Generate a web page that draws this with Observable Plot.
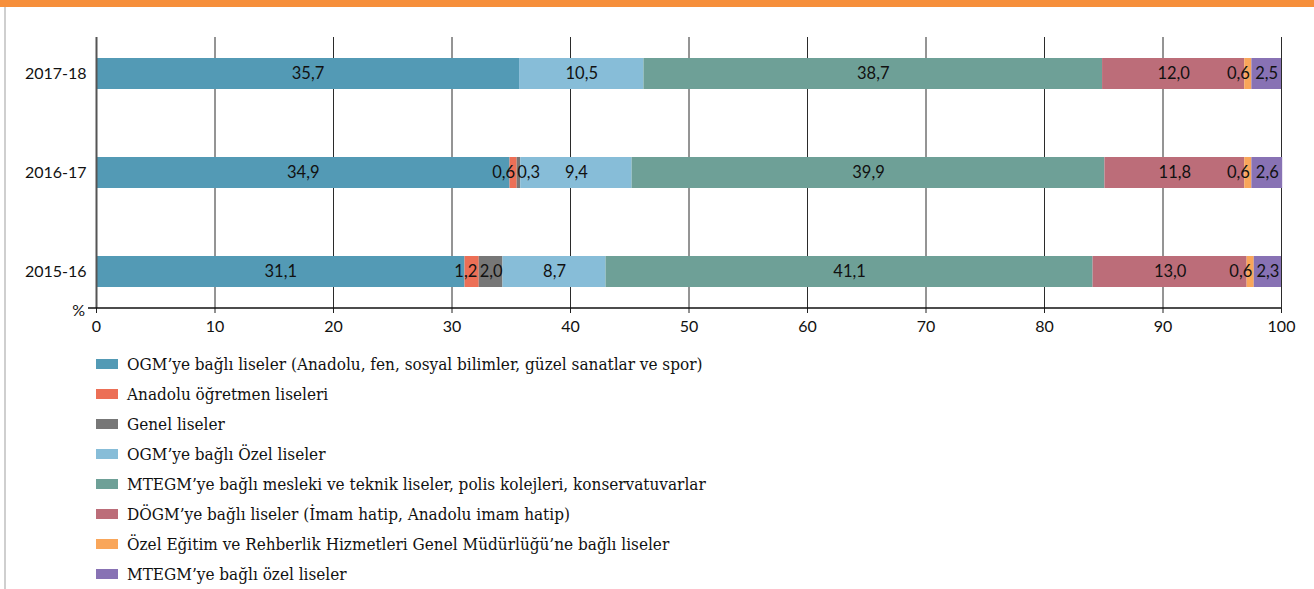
<!DOCTYPE html>
<html>
<head>
<meta charset="utf-8">
<script src="https://cdn.jsdelivr.net/npm/d3@7"></script>
<script src="https://cdn.jsdelivr.net/npm/@observablehq/plot@0.6"></script>
<style>
  html, body { margin: 0; padding: 0; background: #fff; }
  body { width: 1314px; height: 589px; position: relative; overflow: hidden; }
  #topbar { height: 7px; background: #F68F3B; }
  #leftline { position: absolute; left: 4px; top: 7px; bottom: 0; width: 2px; background: #cfcfcf; }
  #legend { margin-top: 4px; font-family: "DejaVu Serif Condensed", "DejaVu Serif", serif; font-stretch: condensed; font-size: 17px; color: #111; }
  .row { height: 30px; display: flex; align-items: center; padding-left: 96px; }
  .sw { width: 22px; height: 10px; margin-right: 9px; }
</style>
</head>
<body>
<div id="topbar"></div>
<div id="leftline"></div>
<div id="chart"></div>
<div id="legend"></div>
<script>
const years = ["2017-18", "2016-17", "2015-16"];
const categories = [
  "OGM’ye bağlı liseler (Anadolu, fen, sosyal bilimler, güzel sanatlar ve spor)",
  "Anadolu öğretmen liseleri",
  "Genel liseler",
  "OGM’ye bağlı Özel liseler",
  "MTEGM’ye bağlı mesleki ve teknik liseler, polis kolejleri, konservatuvarlar",
  "DÖGM’ye bağlı liseler (İmam hatip, Anadolu imam hatip)",
  "Özel Eğitim ve Rehberlik Hizmetleri Genel Müdürlüğü’ne bağlı liseler",
  "MTEGM’ye bağlı özel liseler"
];
const colors = ["#539AB5", "#EC6F56", "#777777", "#87BDD8", "#6EA097", "#BC6D79", "#F9A65A", "#8872B4"];
const values2017 = [35.7, 0, 0, 10.5, 38.7, 12.0, 0.6, 2.5];
const values2016 = [34.9, 0.6, 0.3, 9.4, 39.9, 11.8, 0.6, 2.6];
const values2015 = [31.1, 1.2, 2.0, 8.7, 41.1, 13.0, 0.6, 2.3];
const xTicks = [0, 10, 20, 30, 40, 50, 60, 70, 80, 90, 100];

const series = {"2017-18": values2017, "2016-17": values2016, "2015-16": values2015};
const data = [];
for (const y of years) {
  let acc = 0;
  series[y].forEach((v, i) => {
    data.push({year: y, cat: categories[i], idx: i, value: v, start: acc, end: acc + v});
    acc += v;
  });
}
const fmt = v => v.toFixed(1).replace(".", ",");
const labeled = data.filter(d => d.value > 0);
const centerL = labeled.filter(d => d.value >= 1.5);
const endL = labeled.filter(d => d.value < 1.5 && d.idx !== 2);
const startL = labeled.filter(d => d.value < 1.5 && d.idx === 2);

const font = "Lato, sans-serif";
const chart = Plot.plot({
  width: 1314,
  height: 338,
  marginLeft: 96,
  marginRight: 33,
  marginTop: 30,
  marginBottom: 37,
  style: {fontFamily: font, fontSize: "16px", color: "#111", background: "#fff"},
  x: {domain: [0, 100], ticks: xTicks},
  y: {domain: years, paddingInner: 0.69, paddingOuter: 0.207},
  color: {domain: categories, range: colors},
  marks: [
    Plot.ruleX(xTicks.filter(t => t > 0), {stroke: "#2b2b2b", strokeWidth: 1}),
    Plot.barX(data.filter(d => d.value > 0), {x1: "start", x2: "end", y: "year", fill: "cat"}),
    Plot.ruleX([0], {stroke: "#555", strokeWidth: 2}),
    Plot.axisX({ticks: xTicks, tickSize: 5, tickPadding: 7, tickFormat: d => d, fontSize: 16, label: null, stroke: "#222"}),
    Plot.axisY({tickSize: 0, tickPadding: 10, fontSize: 16, label: null}),
    Plot.text(centerL, {x: d => (d.start + d.end) / 2, y: "year", text: d => fmt(d.value), fill: "#111", fontSize: 16.5}),
    Plot.text(endL, {x: "end", y: "year", text: d => fmt(d.value), textAnchor: "end", dx: -2, fill: "#111", fontSize: 16.5}),
    Plot.text(startL, {x: "start", y: "year", text: d => fmt(d.value), textAnchor: "start", dx: 0, fill: "#111", fontSize: 16.5})
  ]
});
document.getElementById("chart").appendChild(chart);

// bottom axis line with "%" marker
const xs = chart.scale("x");
const svg = d3.select(chart);
const yb = 338 - 37;
svg.append("line").attr("x1", xs.apply(0) - 8).attr("x2", xs.apply(100)).attr("y1", yb).attr("y2", yb)
  .attr("stroke", "#111").attr("stroke-width", 1.5);
svg.append("text").attr("x", xs.apply(0) - 11).attr("y", yb + 8).attr("text-anchor", "end")
  .attr("font-family", font).attr("font-size", 16).attr("fill", "#111").text("%");

const legend = d3.select("#legend");
categories.forEach((c, i) => {
  const r = legend.append("div").attr("class", "row");
  r.append("div").attr("class", "sw").style("background", colors[i]);
  r.append("span").text(c);
});
</script>
</body>
</html>
